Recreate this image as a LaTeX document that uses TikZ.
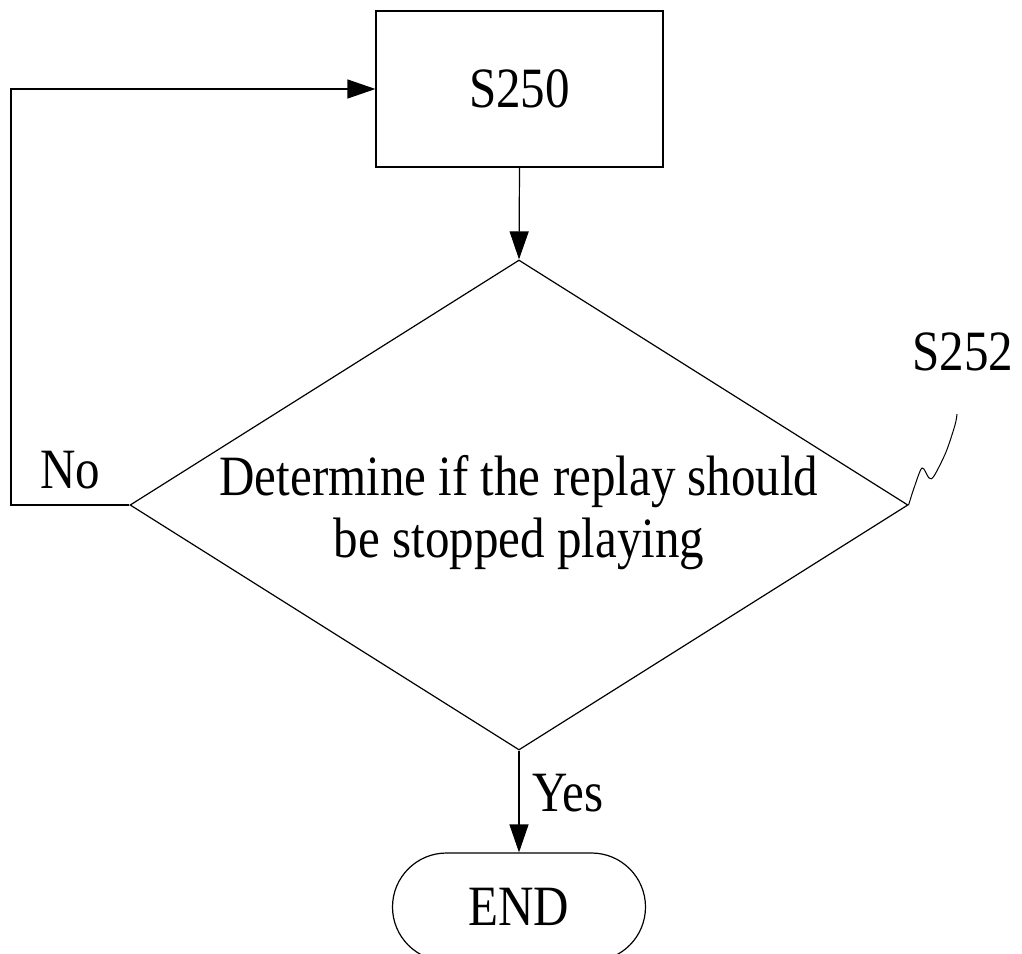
\documentclass[tikz,border=0pt]{standalone}
\usepackage{fontspec}
\setmainfont{Liberation Serif}[FakeStretch=0.86]
\usepackage{tikz}
\usetikzlibrary{arrows.meta,shapes.geometric,shapes.misc}

\begin{document}
\begin{tikzpicture}[x=1pt,y=-1pt,line width=1.2pt,
    >={Triangle[length=28pt,width=19pt]},
    stepbox/.style={draw,rectangle,minimum width=287pt,minimum height=156pt,inner sep=0pt},
    decision/.style={draw,diamond,minimum width=778pt,minimum height=490pt,inner sep=0pt},
    terminal/.style={draw,rounded rectangle,minimum width=253pt,minimum height=108pt,inner sep=0pt},
    txt/.style={font=\fontsize{57}{62}\selectfont,align=center,inner sep=0pt}]
        % frame
        \clip (0,0) rectangle (1022,953);
        \node[stepbox] (s250) at (519.5,89) {};
        \node[txt] (s250txt) at (s250.center) {S250};
        \node[decision] (dec) at (519,505) {};
        \node[txt] (dectxt) at (519,513) {Determine if the replay should\\be stopped playing};
        \node[terminal] (end) at (519,907) {};
        \node[txt] (endtxt) at (end.center) {END};
        \coordinate (loopl) at (11,505);
        \coordinate (loopt) at (11,89);
        % arrows
        \draw[->] (s250.south) -- (dec.north);
        \draw[->] (dec.west) -- (loopl) -- (loopt) -- (s250.west);
        \draw[->] (dec.south) -- (end.north);
        % labels
        \node[txt] (no) at (70,470) {No};
        \node[txt] (yes) at (568,793) {Yes};
        \node[txt] (s252) at (963,352) {S252};
        \draw[line width=1pt] plot[smooth] coordinates
            {(dec.east) (914,488) (922,468) (929,478) (934,476) (946,452) (955,425) (957,414)};
      \end{tikzpicture}
\end{document}
